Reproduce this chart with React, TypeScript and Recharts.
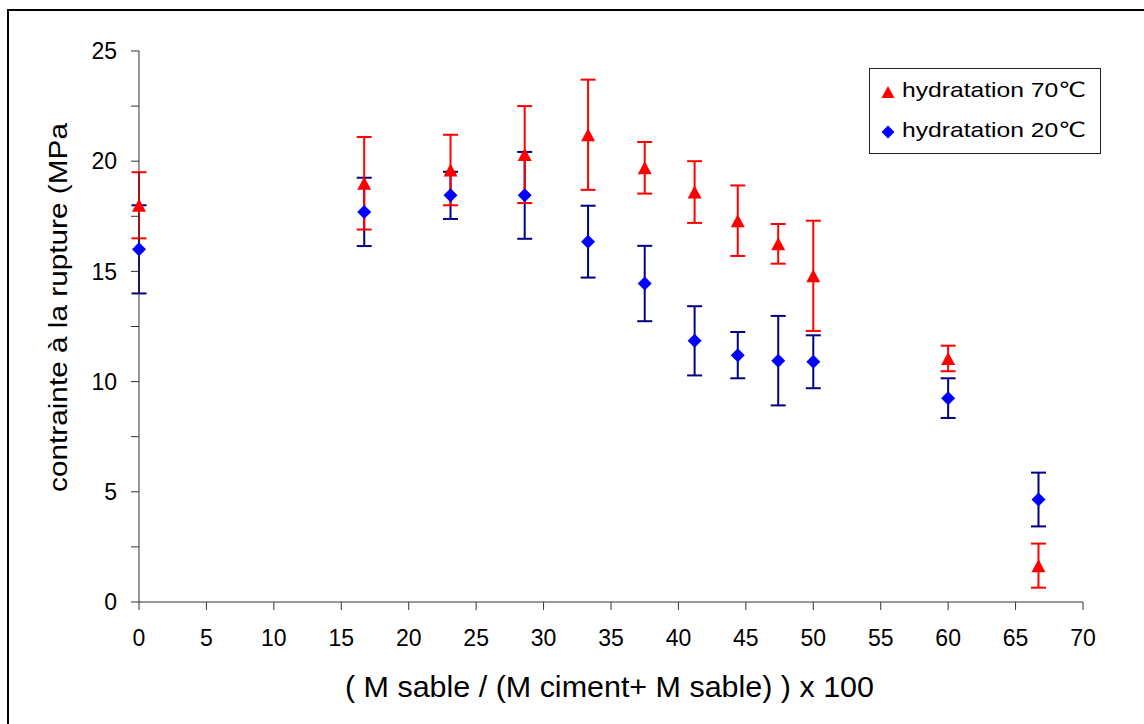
import React from 'react';
import { ScatterChart, Scatter, XAxis, YAxis, ErrorBar, Label } from 'recharts';

// Sand mass fraction (%) for each mix
const sandRatio = [0, 16.7, 23.1, 28.6, 33.3, 37.5, 41.2, 44.4, 47.4, 50, 60, 66.7];

// Breaking stress (MPa) and its spread, cured at 70 °C
const stress70 = [18.0, 19.0, 19.6, 20.3, 21.2, 19.7, 18.6, 17.3, 16.25, 14.8, 11.05, 1.65];
const spread70 = [1.5, 2.1, 1.6, 2.2, 2.5, 1.17, 1.4, 1.6, 0.9, 2.5, 0.58, 1.0];

// Breaking stress (MPa) and its spread, cured at 20 °C
const stress20 = [16.0, 17.7, 18.45, 18.45, 16.35, 14.45, 11.85, 11.2, 10.95, 10.9, 9.25, 4.65];
const spread20 = [2.0, 1.55, 1.07, 1.97, 1.63, 1.71, 1.57, 1.05, 2.03, 1.2, 0.9, 1.22];

const xTicks = [0, 5, 10, 15, 20, 25, 30, 35, 40, 45, 50, 55, 60, 65, 70];
const yTicks = [0, 2.5, 5, 7.5, 10, 12.5, 15, 17.5, 20, 22.5, 25];

const name70 = 'hydratation 70℃';
const name20 = 'hydratation 20℃';
const xTitle = '( M sable / (M ciment+ M sable) ) x 100';
const yTitle = 'contrainte à la rupture (MPa';

const FONT = '"Liberation Sans", Arial, "DejaVu Sans", sans-serif';
const RED = '#FF0000';
const BLUE = '#0000FF';
const NAVY = '#000080';
const AXIS = '#333333';

const data70 = sandRatio.map((x, i) => ({ x, y: stress70[i], err: spread70[i] }));
const data20 = sandRatio.map((x, i) => ({ x, y: stress20[i], err: spread20[i] }));

const Triangle = (props: any) => {
  const { cx, cy } = props;
  if (cx == null || cy == null) return null;
  return (
    <polygon
      points={`${cx},${cy - 6.5} ${cx + 7},${cy + 6.5} ${cx - 7},${cy + 6.5}`}
      fill={RED}
    />
  );
};

const Diamond = (props: any) => {
  const { cx, cy } = props;
  if (cx == null || cy == null) return null;
  return (
    <polygon
      points={`${cx},${cy - 7} ${cx + 7},${cy} ${cx},${cy + 7} ${cx - 7},${cy}`}
      fill={BLUE}
    />
  );
};

const renderXTitle = (props: any) => {
  const vb = props.viewBox || {};
  return (
    <text
      x={vb.x + vb.width / 2 - 1.5}
      y={vb.y + 95}
      textAnchor="middle"
      fontFamily={FONT}
      fontSize={29}
      fill="#000"
      textLength={529}
      lengthAdjust="spacingAndGlyphs"
    >
      {xTitle}
    </text>
  );
};

const renderYTitle = (props: any) => {
  const vb = props.viewBox || {};
  const cx = vb.x + 67;
  const cy = vb.y + vb.height / 2 - 19;
  return (
    <text
      x={cx}
      y={cy}
      transform={`rotate(-90 ${cx} ${cy})`}
      textAnchor="middle"
      fontFamily={FONT}
      fontSize={25}
      fill="#000"
      textLength={369}
      lengthAdjust="spacingAndGlyphs"
    >
      {yTitle}
    </text>
  );
};

const legendItems = [
  { label: name70, kind: 'triangle' },
  { label: name20, kind: 'diamond' },
];

const ChartLegend = () => (
  <svg width={233} height={87} style={{ position: 'absolute', left: 869, top: 68, display: 'block' }}>
    <rect x={0.5} y={0.5} width={231} height={85} fill="#fff" stroke="#222" strokeWidth={1} />
    {legendItems.map((it, i) => {
      const cy = 24 + i * 40;
      return (
        <g key={it.label}>
          {it.kind === 'triangle' ? (
            <polygon points={`19,${cy - 6} 25.5,${cy + 6} 12.5,${cy + 6}`} fill={RED} />
          ) : (
            <polygon points={`19,${cy - 6.5} 25.5,${cy} 19,${cy + 6.5} 12.5,${cy}`} fill={BLUE} />
          )}
          <text
            x={33}
            y={cy + 5}
            fontFamily={FONT}
            fontSize={21}
            fill="#000"
            textLength={184}
            lengthAdjust="spacingAndGlyphs"
          >
            {it.label}
          </text>
        </g>
      );
    })}
  </svg>
);

export default function App() {
  return (
    <div style={{ position: 'absolute', left: 0, top: 0, width: 1144, height: 724, background: '#fff' }}>
      <div
        style={{
          position: 'absolute',
          left: 7,
          top: 9,
          width: 1137,
          height: 715,
          borderLeft: '2px solid #000',
          borderTop: '2px solid #000',
          boxSizing: 'border-box',
        }}
      />
      <div style={{ position: 'absolute', left: 0, top: 0 }}>
        <ScatterChart width={1144} height={724} margin={{ top: 51, right: 61, bottom: 0, left: 0 }}>
          <XAxis
            type="number"
            dataKey="x"
            domain={[0, 70]}
            ticks={xTicks}
            interval={0}
            height={122}
            tickSize={8}
            tickMargin={20}
            stroke={AXIS}
            axisLine={{ stroke: AXIS, strokeWidth: 1 }}
            tickLine={{ stroke: AXIS }}
            tick={{ fill: '#000', fontSize: 23, fontFamily: FONT }}
          >
            <Label content={renderXTitle} />
          </XAxis>
          <YAxis
            type="number"
            dataKey="y"
            domain={[0, 25]}
            ticks={yTicks}
            interval={0}
            width={139}
            tickSize={8}
            tickMargin={14}
            stroke={AXIS}
            axisLine={{ stroke: AXIS, strokeWidth: 1 }}
            tickLine={{ stroke: AXIS }}
            tick={{ fill: '#000', fontSize: 23, fontFamily: FONT }}
            tickFormatter={(v: number) => (v % 5 === 0 ? String(v) : '')}
          >
            <Label content={renderYTitle} />
          </YAxis>
          <Scatter name={name20} data={data20} dataKey="y" shape={Diamond} isAnimationActive={false}>
            <ErrorBar dataKey="err" direction="y" width={7.5} strokeWidth={2} stroke={NAVY} isAnimationActive={false} />
          </Scatter>
          <Scatter name={name70} data={data70} dataKey="y" shape={Triangle} isAnimationActive={false}>
            <ErrorBar dataKey="err" direction="y" width={7.5} strokeWidth={2} stroke={RED} isAnimationActive={false} />
          </Scatter>
        </ScatterChart>
      </div>
      <ChartLegend />
    </div>
  );
}
